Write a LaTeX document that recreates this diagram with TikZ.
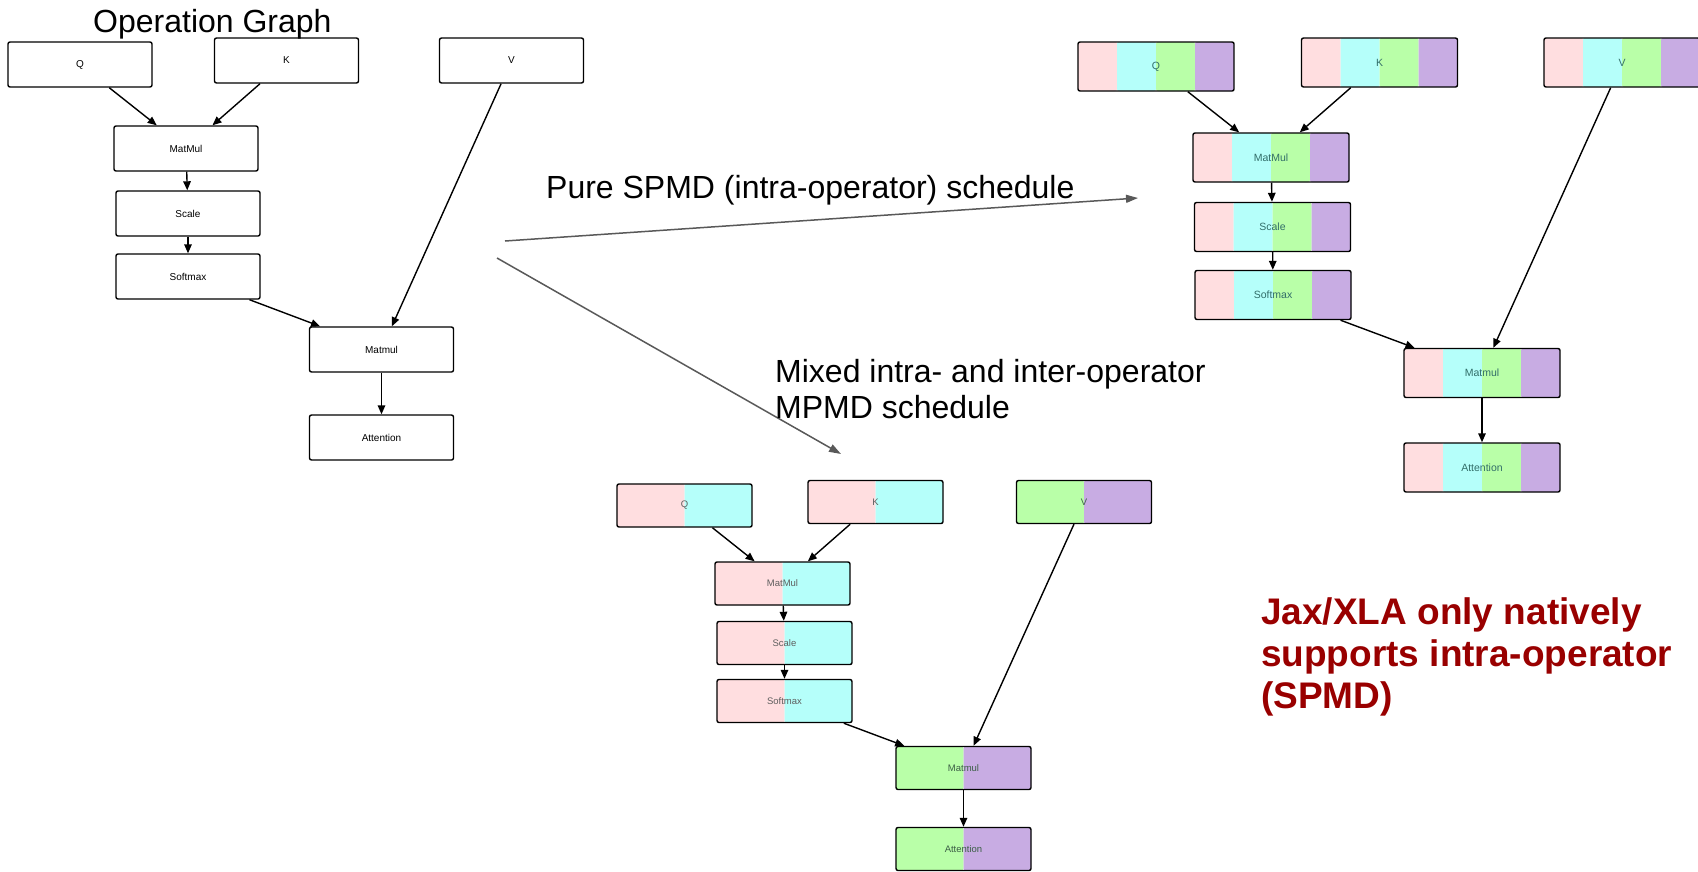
\documentclass[tikz,border=0pt]{standalone}
\usepackage{fontspec}
\setmainfont{Liberation Sans}
\usetikzlibrary{arrows.meta,calc}
\definecolor{cpink}{RGB}{255,222,224}
\definecolor{ccyan}{RGB}{181,255,250}
\definecolor{cgreen}{RGB}{185,255,168}
\definecolor{cpurple}{RGB}{200,172,227}
\definecolor{arrowgray}{RGB}{89,89,89}
\definecolor{darkred}{RGB}{153,0,0}
\definecolor{tealtext}{RGB}{50,110,105}
\definecolor{graytext}{RGB}{95,95,95}
\definecolor{greentext}{RGB}{60,95,70}
\tikzset{
  opbox/.style={draw=black, line width=1.4pt, rounded corners=2pt, inner sep=0pt,
    minimum width=144pt, minimum height=45pt, font=\fontsize{10}{12}\selectfont},
  segfill/.style 2 args={path picture={
    \foreach \c [count=\i from 0] in {#2} {
      \fill[\c] let \p1=(path picture bounding box.south west),
                    \p2=(path picture bounding box.north east) in
        ({\x1+\i*(\x2-\x1)/#1},\y1) rectangle ({\x1+(\i+1)*(\x2-\x1)/#1},\y2);
    }}},
  quadbox/.style={opbox, minimum width=156pt, minimum height=49pt, text=tealtext,
    font=\fontsize{10.5}{12}\selectfont, segfill={4}{cpink,ccyan,cgreen,cpurple}},
  midbox/.style={opbox, minimum width=135pt, minimum height=43pt,
    font=\fontsize{9.5}{11}\selectfont},
  midpc/.style={midbox, text=graytext, segfill={2}{cpink,ccyan}},
  midgp/.style={midbox, text=greentext, segfill={2}{cgreen,cpurple}},
  edge/.style={draw=black, line width=1.4pt, -{Triangle[length=9pt,width=7.5pt]}},
  grayarrow/.style={draw=arrowgray, line width=1.5pt, -{Triangle[length=12pt,width=8pt]}},
  bigtext/.style={inner sep=0pt, font=\fontsize{32}{36}\selectfont},
  notetext/.style={inner sep=0pt, text=darkred, align=left,
    font=\fontsize{37}{42}\selectfont\bfseries}
}
\begin{document}
\begin{tikzpicture}[x=1pt,y=-1pt]
\useasboundingbox (0,0) rectangle (1698,871);

% ---------- left: operation graph ----------
\node[bigtext, anchor=base west] (title) at (93,32) {Operation Graph};
\node[opbox] (lQ) at (80,64.5) {Q};
\node[opbox] (lK) at (286.5,60.5) {K};
\node[opbox] (lV) at (511.5,60.5) {V};
\node[opbox] (lMM) at (186,148.5) {MatMul};
\node[opbox] (lSc) at (188,213.5) {Scale};
\node[opbox] (lSm) at (188,276.5) {Softmax};
\node[opbox] (lMt) at (381.5,349.5) {Matmul};
\node[opbox] (lAt) at (381.5,437.5) {Attention};
\draw[edge] (lQ) -- (lMM);
\draw[edge] (lK) -- (lMM);
\draw[edge] (lMM) -- (lSc);
\draw[edge] (lSc) -- (lSm);
\draw[edge] (lSm) -- (lMt);
\draw[edge] (lV) -- (lMt);
\draw[edge] (lMt) -- (lAt);

% ---------- schedule arrows ----------
\coordinate (s1) at (505,241);
\coordinate (e1) at (1138,198);
\coordinate (s2) at (497,258);
\coordinate (e2) at (841,454);
\draw[grayarrow] (s1) -- (e1);
\draw[grayarrow] (s2) -- (e2);
\node[bigtext, anchor=base west] (spmd) at (546,198) {Pure SPMD (intra-operator) schedule};
\node[bigtext, anchor=base west, align=left] (mpmd) at (775,418)
  {Mixed intra- and inter-operator\\MPMD schedule};

% ---------- right: pure SPMD ----------
\node[quadbox] (rQ) at (1156,66.5) {Q};
\node[quadbox] (rK) at (1379.5,62.5) {K};
\node[quadbox] (rV) at (1622,62.5) {V};
\node[quadbox] (rMM) at (1271,157.5) {MatMul};
\node[quadbox] (rSc) at (1272.5,227) {Scale};
\node[quadbox] (rSm) at (1273,295) {Softmax};
\node[quadbox] (rMt) at (1482,373) {Matmul};
\node[quadbox] (rAt) at (1482,467.5) {Attention};
\draw[edge] (rQ) -- (rMM);
\draw[edge] (rK) -- (rMM);
\draw[edge] (rMM) -- (rSc);
\draw[edge] (rSc) -- (rSm);
\draw[edge] (rSm) -- (rMt);
\draw[edge] (rV) -- (rMt);
\draw[edge] (rMt) -- (rAt);

% ---------- middle: MPMD ----------
\node[midpc] (mQ) at (684.5,505.5) {Q};
\node[midpc] (mK) at (875.5,502) {K};
\node[midgp] (mV) at (1084,502) {V};
\node[midpc] (mMM) at (782.5,583.5) {MatMul};
\node[midpc] (mSc) at (784.5,643) {Scale};
\node[midpc] (mSm) at (784.5,701) {Softmax};
\node[midgp] (mMt) at (963.5,768) {Matmul};
\node[midgp] (mAt) at (963.5,849) {Attention};
\draw[edge] (mQ) -- (mMM);
\draw[edge] (mK) -- (mMM);
\draw[edge] (mMM) -- (mSc);
\draw[edge] (mSc) -- (mSm);
\draw[edge] (mSm) -- (mMt);
\draw[edge] (mV) -- (mMt);
\draw[edge] (mMt) -- (mAt);

% ---------- note ----------
\node[notetext, anchor=base west] (note) at (1261,708)
  {Jax/XLA only natively\\supports intra-operator\\(SPMD)};
\end{tikzpicture}
\end{document}
